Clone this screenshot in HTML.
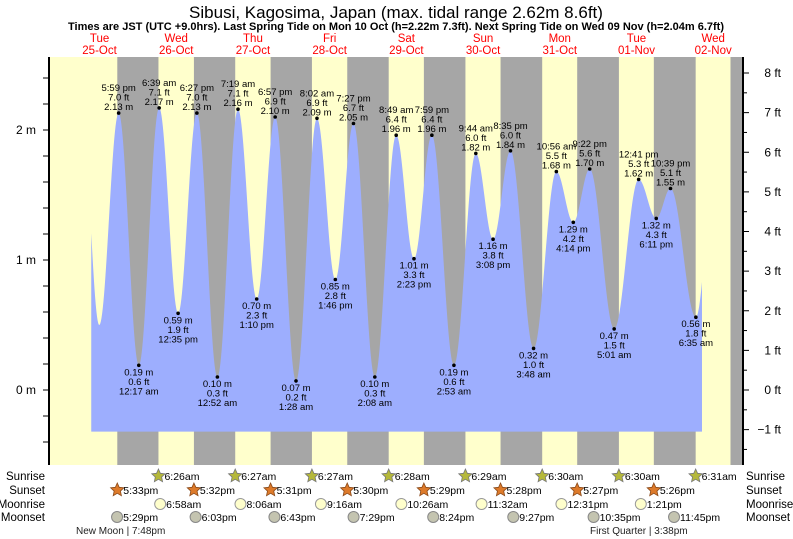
<!DOCTYPE html>
<html><head><meta charset="utf-8">
<style>
body{margin:0;background:#fff;}
svg{display:block;font-family:"Liberation Sans",sans-serif;}
</style></head>
<body>
<svg id="chart" width="793" height="539" viewBox="0 0 793 539" xmlns="http://www.w3.org/2000/svg">
<text x="396" y="18" font-size="17" text-anchor="middle" fill="#000">Sibusi, Kagosima, Japan (max. tidal range 2.62m 8.6ft)</text>
<text x="396" y="30" font-size="11" font-weight="bold" text-anchor="middle" fill="#000">Times are JST (UTC +9.0hrs). Last Spring Tide on Mon 10 Oct (h=2.22m 7.3ft). Next Spring Tide on Wed 09 Nov (h=2.04m 6.7ft)</text>
<g id="plot"></g>
</svg>
<script>
// ---- data ----
const dayNames = ["Tue","Wed","Thu","Fri","Sat","Sun","Mon","Tue","Wed"];
const dayDates = ["25-Oct","26-Oct","27-Oct","28-Oct","29-Oct","30-Oct","31-Oct","01-Nov","02-Nov"];
// tide extremes: hours since 25-Oct 00:00, height in m
const tideHours = [6.5, 11.9, 17.98, 24.28, 30.65, 36.58, 42.45, 48.87, 55.32, 61.17, 66.95, 73.47, 80.03, 85.77, 91.45, 98.13, 104.82, 110.38, 115.98, 122.88, 129.73, 135.13, 140.58, 147.8, 154.93, 160.23, 165.37, 173.02, 180.68, 186.18, 190.65, 198.58, 204.5];
const tideHeights = [2.1, 0.5, 2.13, 0.19, 2.17, 0.59, 2.13, 0.10, 2.16, 0.70, 2.10, 0.07, 2.09, 0.85, 2.05, 0.10, 1.96, 1.01, 1.96, 0.19, 1.82, 1.16, 1.84, 0.32, 1.68, 1.29, 1.70, 0.47, 1.62, 1.32, 1.55, 0.56, 1.7];
const tideTimes = [null, null, "5:59 pm","12:17 am","6:39 am","12:35 pm","6:27 pm","12:52 am","7:19 am","1:10 pm","6:57 pm","1:28 am","8:02 am","1:46 pm","7:27 pm","2:08 am","8:49 am","2:23 pm","7:59 pm","2:53 am","9:44 am","3:08 pm","8:35 pm","3:48 am","10:56 am","4:14 pm","9:22 pm","5:01 am","12:41 pm","6:11 pm","10:39 pm","6:35 am", null];
const tideFeet = [null, null, "7.0","0.6","7.1","1.9","7.0","0.3","7.1","2.3","6.9","0.2","6.9","2.8","6.7","0.3","6.4","3.3","6.4","0.6","6.0","3.8","6.0","1.0","5.5","4.2","5.6","1.5","5.3","4.3","5.1","1.8", null];
const fillStart = 9.4, fillEnd = 200.5;
// sun / moon (day index, time in hours, label)
const sunriseDay = [1,2,3,4,5,6,7,8];
const sunriseHr = [6.43,6.45,6.45,6.47,6.48,6.5,6.5,6.52];
const sunriseLbl = ["6:26am","6:27am","6:27am","6:28am","6:29am","6:30am","6:30am","6:31am"];
const sunsetDay = [0,1,2,3,4,5,6,7,8];
const sunsetHr = [17.55,17.53,17.52,17.5,17.48,17.47,17.45,17.43,17.42];
const sunsetLbl = ["5:33pm","5:32pm","5:31pm","5:30pm","5:29pm","5:28pm","5:27pm","5:26pm",""];
const moonriseDay = [1,2,3,4,5,6,7];
const moonriseHr = [6.97,8.1,9.27,10.43,11.53,12.52,13.35];
const moonriseLbl = ["6:58am","8:06am","9:16am","10:26am","11:32am","12:31pm","1:21pm"];
const moonsetDay = [0,1,2,3,4,5,6,7];
const moonsetHr = [17.48,18.05,18.72,19.48,20.4,21.45,22.58,23.75];
const moonsetLbl = ["5:29pm","6:03pm","6:43pm","7:29pm","8:24pm","9:27pm","10:35pm","11:45pm"];
const mTicks = [0,1,2];
const ftTicks = [-1,0,1,2,3,4,5,6,7,8];

// ---- scales ----
const X0 = 49, X1 = 743, Y0 = 57, Y1 = 465;
const x = h => 61.2 + h * 3.196;
const y = m => 390 - m * 130;
const NS = "http://www.w3.org/2000/svg";
const plot = document.getElementById("plot");
function el(tag, attrs, parent, text) {
  const e = document.createElementNS(NS, tag);
  for (const k in attrs) e.setAttribute(k, attrs[k]);
  if (text !== undefined) e.textContent = text;
  (parent || plot).appendChild(e);
  return e;
}

// background
let bg = el("rect", {x:X0, y:Y0, width:X1-X0, height:Y1-Y0, fill:"#ffffcc"});


// night shading
for (let i = 0; i < sunsetDay.length; i++) {
  const xs = x(sunsetDay[i]*24 + sunsetHr[i]);
  const xe = i < sunriseDay.length ? x(sunriseDay[i]*24 + sunriseHr[i]) : X1;
  let r = el("rect", {x:xs, y:Y0, width:Math.min(xe, X1)-xs, height:Y1-Y0, fill:"#a6a6a6"});
  
  
}
// tide curve
function tideAt(h) {
  for (let i = 0; i < tideHours.length-1; i++) {
    if (h >= tideHours[i] && h <= tideHours[i+1]) {
      const f = (h - tideHours[i]) / (tideHours[i+1] - tideHours[i]);
      return tideHeights[i] + (tideHeights[i+1] - tideHeights[i]) * (1 - Math.cos(Math.PI * f)) / 2;
    }
  }
  return tideHeights[tideHeights.length-1];
}
const base = y(-0.32);
let d = "M" + x(fillStart) + "," + base;
for (let h = fillStart; h <= fillEnd; h += 0.2) d += " L" + x(h).toFixed(2) + "," + y(tideAt(h)).toFixed(2);
d += " L" + x(fillEnd) + "," + y(tideAt(fillEnd)).toFixed(2) + " L" + x(fillEnd) + "," + base + " Z";
let area = el("path", {d:d, fill:"#9daefe"});



// labels on extremes
for (let i = 0; i < tideHours.length; i++) {
  if (!tideTimes[i]) continue;
  const cx = x(tideHours[i]), cy = y(tideHeights[i]);
  const high = tideHeights[i] > (tideHeights[i-1] || 0);
  let dot = el("circle", {cx:cx, cy:cy, r:1.8, fill:"#000"});
  
  
  const g = el("g", {"font-size":"9.5", "text-anchor":"middle", fill:"#000"});
  
  
  const lines = high ? [tideTimes[i], tideFeet[i]+" ft", tideHeights[i].toFixed(2)+" m"]
                     : [tideHeights[i].toFixed(2)+" m", tideFeet[i]+" ft", tideTimes[i]];
  const starts = high ? cy - 22 : cy + 10;
  lines.forEach((t, k) => el("text", {x:cx, y:starts + k*9.5}, g, t));
}

// axes
let axL = el("line", {x1:X0, y1:Y0, x2:X0, y2:Y1, stroke:"#000", "stroke-width":2});


let axR = el("line", {x1:X1, y1:Y0, x2:X1, y2:Y1, stroke:"#000", "stroke-width":2});


for (let v = -0.4; v <= 2.6; v += 0.2) {
  const yy = y(v); if (yy < Y0 || yy > Y1) continue;
  el("line", {x1:X0-6, y1:yy, x2:X0, y2:yy, stroke:"#000"});
}
mTicks.forEach(v => {
  let t = el("text", {x:36, y:y(v)+4, "font-size":"12", "text-anchor":"end"}, null, v + " m");
  
  
});
for (let f = -1.5; f <= 8.5; f += 0.5) {
  const yy = y(f*0.3048); if (yy < Y0 || yy > Y1) continue;
  el("line", {x1:X1, y1:yy, x2:X1+(f%1===0?6:4), y2:yy, stroke:"#000"});
}
ftTicks.forEach(f => {
  let t = el("text", {x:781, y:y(f*0.3048)+4, "font-size":"12", "text-anchor":"end"}, null, (f<0?"\u2212"+(-f):f) + " ft");
  
  
});
// day labels
dayNames.forEach((n, i) => {
  const cx = x(i*24 + 12);
  let a = el("text", {x:cx, y:42, "font-size":"11.5", fill:"#ff0000", "text-anchor":"middle"}, null, n);
  
  
  let b = el("text", {x:cx, y:54, "font-size":"11.5", fill:"#ff0000", "text-anchor":"middle"}, null, dayDates[i]);
  
  
});

// sun/moon rows
function star(cx, cy, fill, stroke) {
  let p = "";
  for (let k = 0; k < 10; k++) {
    const r = k % 2 ? 3.3 : 7, a = -Math.PI/2 + k*Math.PI/5;
    p += (cx + r*Math.cos(a)).toFixed(2) + "," + (cy + r*Math.sin(a)).toFixed(2) + " ";
  }
  return el("polygon", {points:p, fill:fill, stroke:stroke, "stroke-width":0.8});
}
function row(days, hrs, lbls, cy, kind) {
  for (let i = 0; i < days.length; i++) {
    if (!lbls[i]) continue;
    const cx = x(days[i]*24 + hrs[i]);
    let icon;
    if (kind === "sunrise") icon = star(cx, cy, "#b5b83a", "#777");
    else if (kind === "sunset") icon = star(cx, cy, "#dd7a2a", "#8a4a1a");
    else if (kind === "moonrise") icon = el("circle", {cx:cx, cy:cy, r:5.5, fill:"#ffffcc", stroke:"#999"});
    else icon = el("circle", {cx:cx, cy:cy, r:5.5, fill:"#c4c4b0", stroke:"#888"});
    
    
    let t = el("text", {x:cx+6, y:cy+4, "font-size":"10.5"}, null, lbls[i]);
    
    
  }
  const name = kind[0].toUpperCase() + kind.slice(1);
  let l = el("text", {x:45, y:cy+4, "font-size":"11.5", "text-anchor":"end"}, null, name);
  
  
  let r = el("text", {x:746, y:cy+4, "font-size":"11.5"}, null, name);
  
  
}
row(sunriseDay, sunriseHr, sunriseLbl, 476, "sunrise");
row(sunsetDay, sunsetHr, sunsetLbl, 490, "sunset");
row(moonriseDay, moonriseHr, moonriseLbl, 504, "moonrise");
row(moonsetDay, moonsetHr, moonsetLbl, 517, "moonset");
let nm = el("text", {x:76, y:534, "font-size":"10", fill:"#222"}, null, "New Moon | 7:48pm");


let fq = el("text", {x:590, y:534, "font-size":"10", fill:"#222"}, null, "First Quarter | 3:38pm");


</script>
</body></html>
